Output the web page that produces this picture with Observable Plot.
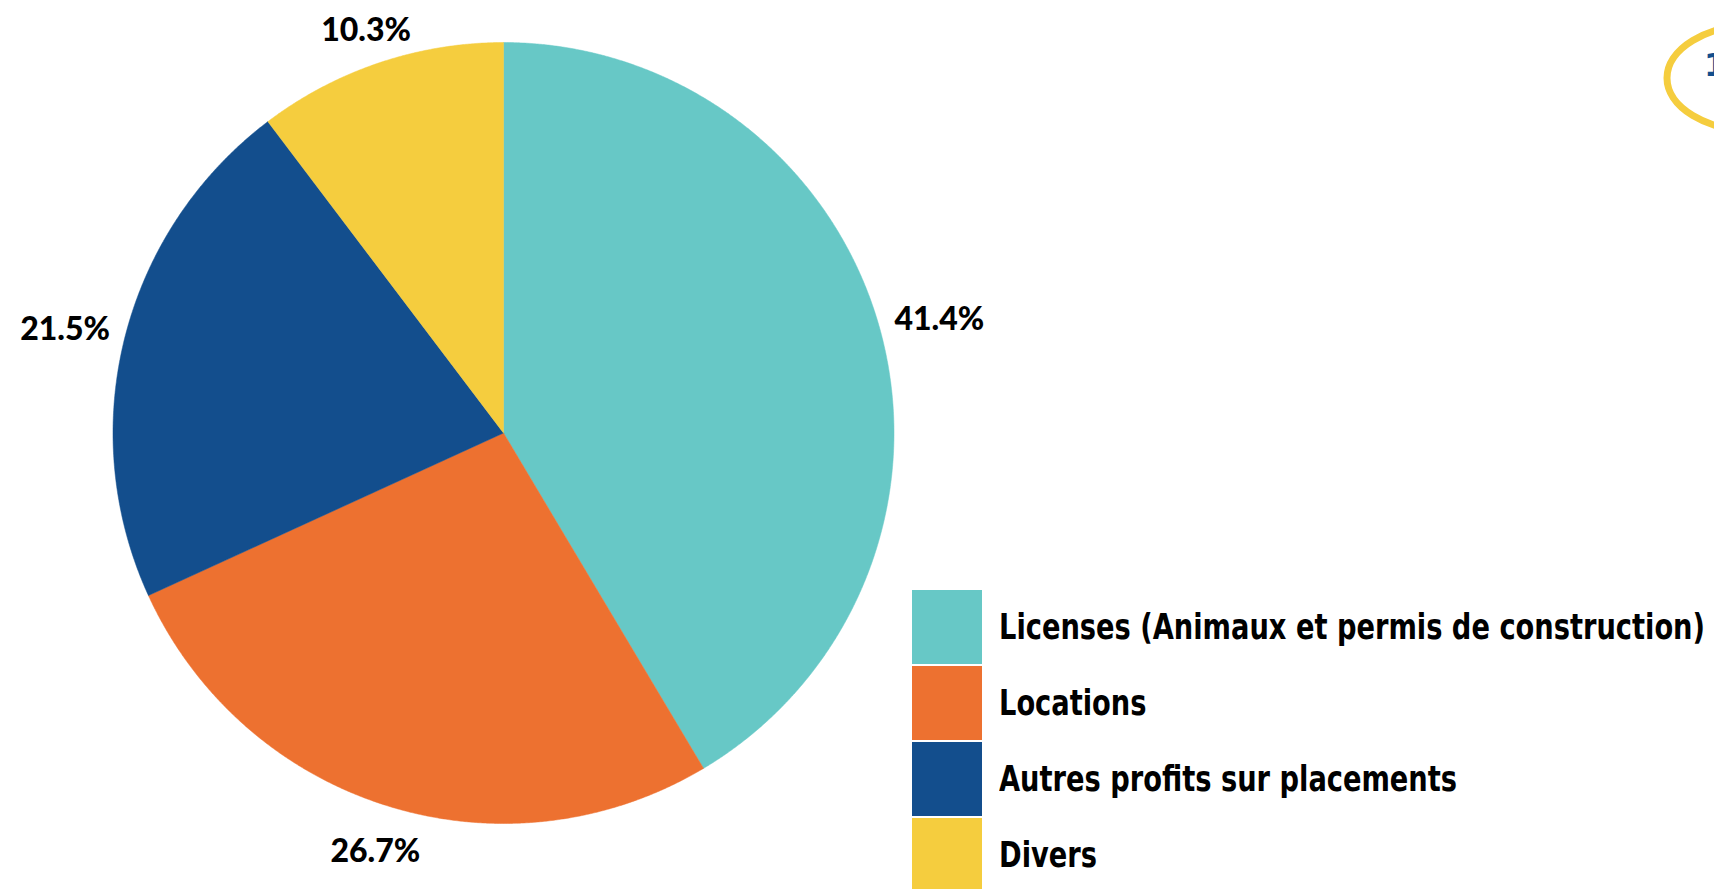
<!DOCTYPE html>
<html>
<head>
<meta charset="utf-8">
<script src="https://cdn.jsdelivr.net/npm/d3@7"></script>
<script src="https://cdn.jsdelivr.net/npm/@observablehq/plot@0.6"></script>
<style>
  html, body { margin: 0; padding: 0; background: #fff; overflow: hidden; }
  #wrap { position: relative; width: 1714px; height: 889px; }
  #chart { position: absolute; left: 0; top: 0; }
  #legend { position: absolute; left: 912px; top: 590px; }
  .item { display: flex; align-items: center; height: 74px; margin-bottom: 2px; }
  .sw { width: 70px; height: 74px; flex: none; }
  .lab { display: inline-block; margin-left: 17px; font-family: "DejaVu Sans Condensed", "DejaVu Sans", sans-serif; font-weight: 700; font-size: 35px; color: #000; white-space: nowrap; transform-origin: 0 50%; }
  #badge { position: absolute; left: 0; top: 0; pointer-events: none; }
</style>
</head>
<body>
<div id="wrap">
  <div id="chart"></div>
  <div id="legend"></div>
  <svg id="badge" width="1714" height="889">
    <ellipse cx="1755" cy="78" rx="88" ry="53" fill="none" stroke="#F5CD3E" stroke-width="7"></ellipse>
    <text x="1704" y="76" font-family="DejaVu Sans" font-weight="700" font-size="32" fill="#134E8D">1</text>
  </svg>
</div>
<script>
const categories = ["Licenses (Animaux et permis de construction)", "Locations", "Autres profits sur placements", "Divers"];
const values = [41.4, 26.7, 21.5, 10.3];
const labels = ["41.4%", "26.7%", "21.5%", "10.3%"];
const colors = ["#67C8C6", "#ED7130", "#134E8D", "#F5CD3E"];

const W = 1714, H = 889;
const cx = 503, cy = 432.5, R = 390.5;

const arcs = d3.pie().sort(null).value(d => d)(values);

const marks = [];
arcs.forEach((a, i) => {
  const pts = [{x: 0, y: 0}];
  const n = Math.max(8, Math.ceil((a.endAngle - a.startAngle) / 0.004));
  for (let k = 0; k <= n; k++) {
    const t = a.startAngle + (a.endAngle - a.startAngle) * k / n;
    pts.push({x: R * Math.sin(t), y: -R * Math.cos(t)});
  }
  pts.push({x: 0, y: 0});
  marks.push(Plot.line(pts, {x: "x", y: "y", fill: colors[i], stroke: colors[i], strokeWidth: 0.5}));
});

const tw = 88, th = 24, gap = 16;
const labelData = arcs.map((a, i) => {
  const m = (a.startAngle + a.endAngle) / 2;
  const ux = Math.sin(m), uy = -Math.cos(m);
  const rr = R + gap + (tw / 2) * Math.abs(ux) + (th / 2) * Math.abs(uy);
  return {x: rr * ux, y: rr * uy, label: labels[i]};
});
marks.push(Plot.text(labelData, {
  x: "x", y: "y", text: "label",
  fontSize: 32, fontWeight: 900, fontFamily: "Lato, sans-serif",
  fill: "#000", textAnchor: "middle", dy: 7
}));

const chart = Plot.plot({
  width: W, height: H,
  margin: 0,
  x: {type: "linear", domain: [-cx, W - cx], range: [0, W], axis: null},
  y: {type: "linear", domain: [-cy, H - cy], range: [0, H], axis: null},
  style: {background: "transparent"},
  marks
});
document.getElementById("chart").appendChild(chart);

const legend = document.getElementById("legend");
const labEls = [];
categories.forEach((c, i) => {
  const it = document.createElement("div");
  it.className = "item";
  const sw = document.createElement("div");
  sw.className = "sw";
  sw.style.background = colors[i];
  const lab = document.createElement("span");
  lab.className = "lab";
  lab.textContent = c;
  it.appendChild(sw);
  it.appendChild(lab);
  legend.appendChild(it);
  labEls.push(lab);
});
// condense legend text so the longest entry spans the same width as in the reference
const targetW = 706;
const w0 = labEls[0].getBoundingClientRect().width;
const k = Math.min(1, targetW / w0);
labEls.forEach(el => { el.style.transform = `scaleX(${k})`; });
</script>
</body>
</html>
